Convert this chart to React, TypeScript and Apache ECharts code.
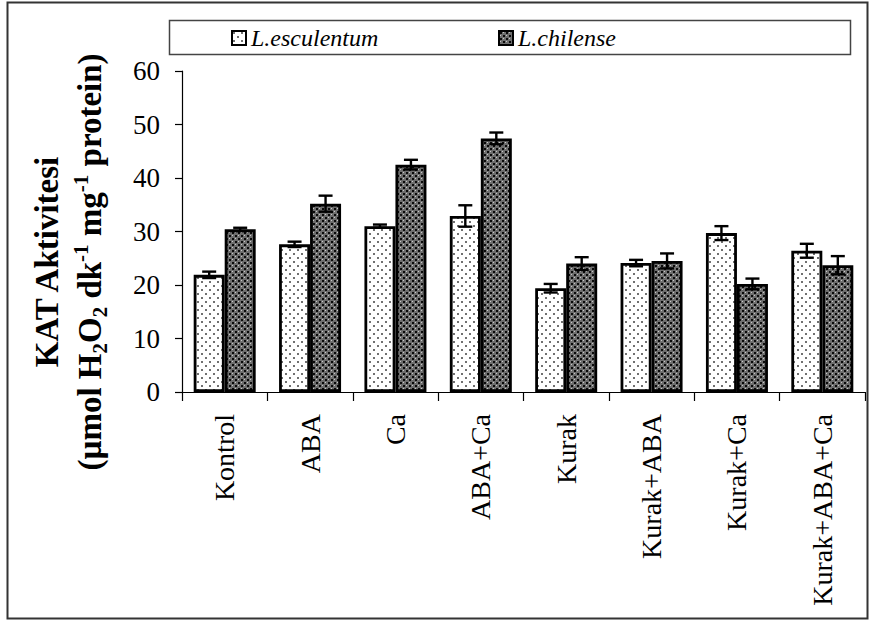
import React, { useEffect, useRef } from "react";
import * as echarts from "echarts";

const categories = ["Kontrol", "ABA", "Ca", "ABA+Ca", "Kurak", "Kurak+ABA", "Kurak+Ca", "Kurak+ABA+Ca"];
const seriesNames = ["L.esculentum", "L.chilense"];
const escValues = [21.9, 27.6, 31.0, 32.9, 19.4, 24.1, 29.7, 26.4];
const escErrors = [0.6, 0.5, 0.3, 2.0, 0.8, 0.6, 1.3, 1.3];
const chilValues = [30.4, 35.2, 42.5, 47.4, 24.0, 24.5, 20.2, 23.7];
const chilErrors = [0.3, 1.5, 0.9, 1.1, 1.2, 1.4, 1.0, 1.7];
const yMin = 0;
const yMax = 60;
const yInterval = 10;

const FONT = "Liberation Serif";
const BAR_W = 31;

function makeTile(w: number, h: number, draw: (ctx: CanvasRenderingContext2D) => void) {
  const c = document.createElement("canvas");
  c.width = w;
  c.height = h;
  const ctx = c.getContext("2d")!;
  draw(ctx);
  return c;
}

export default function App() {
  const ref = useRef<HTMLDivElement>(null);
  useEffect(() => {
    if (!ref.current) return;
    const chart = echarts.init(ref.current, undefined, { renderer: "svg" });

    const dotTile = makeTile(8, 8, (ctx) => {
      ctx.fillStyle = "#ffffff";
      ctx.fillRect(0, 0, 8, 8);
      ctx.fillStyle = "#707070";
      ctx.fillRect(1, 1, 2, 2);
      ctx.fillRect(5, 5, 2, 2);
    });
    const checkTile = makeTile(6, 6, (ctx) => {
      ctx.fillStyle = "#6e6e6e";
      ctx.fillRect(0, 0, 6, 6);
      ctx.fillStyle = "#0a0a0a";
      ctx.fillRect(1, 1, 2, 2);
      ctx.fillRect(4, 4, 2, 2);
      ctx.fillStyle = "#c8c8c8";
      ctx.fillRect(4, 1, 1, 1);
      ctx.fillRect(1, 4, 1, 1);
    });
    const escColor: any = { image: dotTile, repeat: "repeat", imageWidth: 8, imageHeight: 8 };
    const chilColor: any = { image: checkTile, repeat: "repeat", imageWidth: 6, imageHeight: 6 };

    const errData = (vals: number[], errs: number[]) => vals.map((v, i) => [i, v, errs[i]]);
    const errSeries = (vals: number[], errs: number[], side: number) => ({
      type: "custom",
      silent: true,
      z: 10,
      data: errData(vals, errs),
      encode: { x: 0, y: 1 },
      renderItem: (params: any, api: any) => {
        const idx = api.value(0);
        const v = api.value(1);
        const e = api.value(2);
        const c = api.coord([idx, v]);
        const top = api.coord([idx, v + e]);
        const bot = api.coord([idx, v - e]);
        const x = c[0] + side * (BAR_W / 2);
        const hw = 7;
        const st = { stroke: "#000", lineWidth: 2.4 };
        return {
          type: "group",
          children: [
            { type: "line", shape: { x1: x, y1: top[1], x2: x, y2: bot[1] }, style: st },
            { type: "line", shape: { x1: x - hw, y1: top[1], x2: x + hw, y2: top[1] }, style: st },
            { type: "line", shape: { x1: x - hw, y1: bot[1], x2: x + hw, y2: bot[1] }, style: st },
          ],
        };
      },
    });

    const legendText = { fontFamily: FONT, fontSize: 24, fontStyle: "italic", fontWeight: "normal", color: "#000" };

    const legendBase = {
      top: 26,
      padding: 0,
      icon: "rect",
      itemWidth: 14,
      itemHeight: 14,
      itemGap: 5,
      textStyle: legendText,
      selectedMode: false,
    };

    chart.setOption({
      animation: false,
      backgroundColor: "#fff",
      textStyle: { fontFamily: FONT, color: "#000" },
      grid: { left: 182, right: 6, top: 71, bottom: 232, containLabel: false },
      legend: [
        { ...legendBase, left: 231, data: [{ name: seriesNames[0], textStyle: legendText }] },
        { ...legendBase, left: 498, data: [{ name: seriesNames[1], textStyle: legendText }] },
      ],
      xAxis: {
        type: "category",
        data: categories,
        axisLine: { lineStyle: { color: "#000", width: 1.2 } },
        axisTick: { show: true, length: 9, lineStyle: { color: "#000", width: 1.2 } },
        axisLabel: {
          rotate: 90,
          margin: 22,
          fontFamily: FONT,
          fontSize: 28,
          color: "#000",
          interval: 0,
        },
      },
      yAxis: {
        type: "value",
        min: yMin,
        max: yMax,
        interval: yInterval,
        splitLine: { show: false },
        axisLine: { show: true, lineStyle: { color: "#000", width: 1.2 } },
        axisTick: { show: true, length: 7, lineStyle: { color: "#000", width: 1.2 } },
        axisLabel: { margin: 22, fontFamily: FONT, fontSize: 27, color: "#000" },
      },
      graphic: [
        {
          type: "rect",
          shape: { x: 7.5, y: 2.5, width: 860, height: 616 },
          style: { fill: "none", stroke: "#333", lineWidth: 2 },
          silent: true,
          z: -10,
        },
        {
          type: "rect",
          shape: { x: 169.5, y: 20.5, width: 681, height: 34 },
          style: { fill: "#fff", stroke: "#444", lineWidth: 1.5 },
          silent: true,
          z: -5,
        },
        {
          type: "text",
          x: 47,
          y: 262,
          rotation: Math.PI / 2,
          style: {
            text: "KAT Aktivitesi",
            fontFamily: FONT,
            fontWeight: "bold",
            fontSize: 33,
            fill: "#000",
            textAlign: "center",
            textVerticalAlign: "middle",
          },
        },
        {
          type: "text",
          x: 90,
          y: 262,
          rotation: Math.PI / 2,
          style: {
            text: "{b|(µmol H}{sub|2}{b|O}{sub|2}{b| dk}{sup|-1}{b| mg}{sup|-1}{b| protein)}",
            fontFamily: FONT,
            fontWeight: "bold",
            fontSize: 33,
            fill: "#000",
            textAlign: "center",
            textVerticalAlign: "middle",
            rich: {
              b: { fontFamily: FONT, fontWeight: "bold", fontSize: 33, lineHeight: 40, fill: "#000" },
              sub: { fontFamily: FONT, fontWeight: "bold", fontSize: 21, lineHeight: 22, verticalAlign: "bottom", fill: "#000" },
              sup: { fontFamily: FONT, fontWeight: "bold", fontSize: 21, lineHeight: 22, verticalAlign: "top", fill: "#000" },
            },
          },
        },
      ],
      series: [
        {
          name: seriesNames[0],
          type: "bar",
          data: escValues,
          barWidth: BAR_W,
          barGap: "0%",
          itemStyle: { color: escColor, borderColor: "#000", borderWidth: 2.8 },
        },
        {
          name: seriesNames[1],
          type: "bar",
          data: chilValues,
          barWidth: BAR_W,
          barGap: "0%",
          itemStyle: { color: chilColor, borderColor: "#000", borderWidth: 2.8 },
        },
        errSeries(escValues, escErrors, -1),
        errSeries(chilValues, chilErrors, 1),
      ],
    });
    return () => chart.dispose();
  }, []);
  return (
    <div
      ref={ref}
      style={{ position: "absolute", left: 0, top: 0, width: 871, height: 624 }}
    />
  );
}
